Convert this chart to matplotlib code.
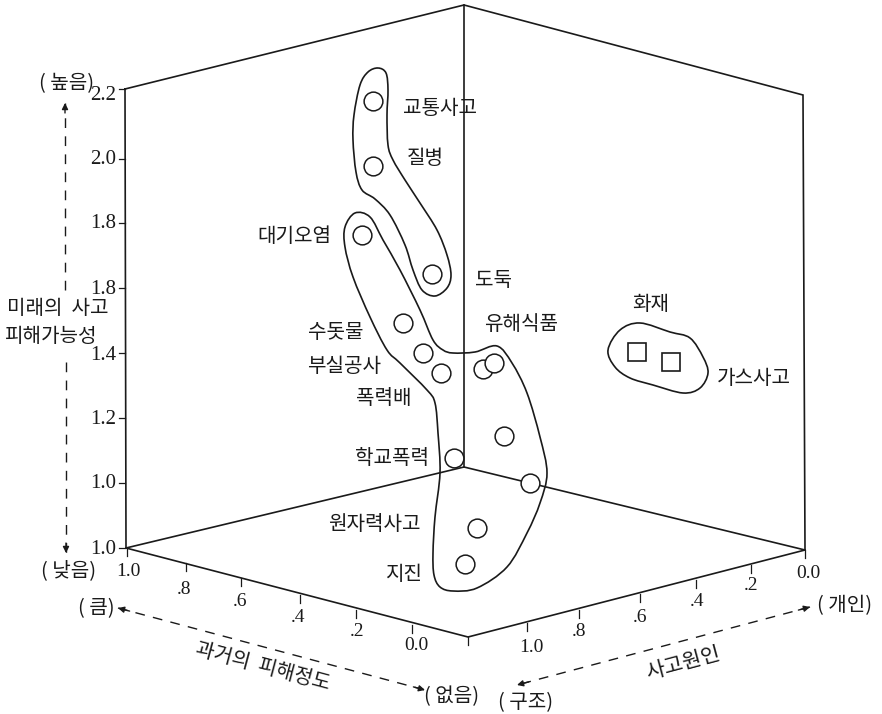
import numpy as np
import matplotlib
matplotlib.use("Agg")
import matplotlib.pyplot as plt
from matplotlib.path import Path
from matplotlib.patches import PathPatch

plt.rcParams['font.family'] = ['Noto Sans CJK KR', 'DejaVu Sans']

W, H = 882, 714
INK = "#1a1a1a"

# the figure is a flat printed projection of a 3d box, so everything is in picture coordinates
box_lines = [
    [(125, 89), (464, 5), (803, 95), (805, 550), (468, 637), (126, 548), (125, 89)],
    [(464, 5), (464, 467)],
    [(126, 548), (464, 467), (805, 550)],
]

z_labels = ["2.2", "2.0", "1.8", "1.8", "1.4", "1.2", "1.0", "1.0"]
z_ticks_y = [89, 159, 223, 288, 353, 418, 483, 548]
z_label_y = [95, 160, 224, 289, 355, 419, 484, 549]

past_labels = ["1.0", ".8", ".6", ".4", ".2", "0.0"]
past_ticks = [(127, 548), (186, 563), (241, 578), (300, 595), (356, 610), (412, 625)]
past_label_pos = [(128, 571), (184, 590), (240, 601), (298, 617), (357, 632), (416, 646)]

cause_labels = ["1.0", ".8", ".6", ".4", ".2", "0.0"]
cause_ticks = [(527, 623), (579, 610), (640, 594), (696, 580), (751, 565), (805, 550)]
cause_label_pos = [(531, 647), (579, 632), (640, 617), (697, 601), (751, 586), (808, 573)]

circle_x = [373, 373, 362, 432, 403, 423, 441, 483, 494, 504, 454, 530, 477, 465]
circle_y = [101, 166, 235, 274, 323, 353, 373, 369, 363, 436, 458, 483, 528, 564]
square_x = [637, 671]
square_y = [352, 362]

blob_top = [(378, 68), (386, 73), (388, 90), (387, 115), (388, 145), (393, 160), (405, 180),
            (420, 203), (437, 230), (447, 255), (451, 275), (447, 288), (435, 296), (422, 290),
            (413, 270), (405, 245), (390, 215), (375, 199), (362, 190), (356, 172), (353, 140),
            (354, 115), (360, 85), (368, 72)]
blob_mid = [(345, 227), (355, 213), (370, 217), (383, 240), (400, 270), (420, 310), (433, 340),
            (443, 350), (453, 353), (475, 352), (497, 346), (512, 363), (527, 393), (540, 437),
            (547, 473), (540, 503), (527, 533), (507, 567), (477, 588), (453, 591), (440, 587),
            (434, 575), (433, 553), (435, 517), (440, 473), (438, 433), (435, 403), (427, 390),
            (400, 363), (387, 350), (370, 317), (353, 277), (345, 247)]
blob_right = [(608, 350), (620, 330), (640, 323), (670, 332), (690, 338), (703, 357), (708, 373),
              (700, 388), (683, 393), (653, 385), (630, 378), (615, 367)]

text_labels = [
    ("교통사고", 440, 108), ("질병", 425, 158), ("대기오염", 294, 236), ("도둑", 494, 279),
    ("수돗물", 336, 332), ("유해식품", 521, 323), ("부실공사", 344, 365), ("화재", 651, 304),
    ("가스사고", 754, 377), ("폭력배", 384, 398), ("학교폭력", 392, 457), ("원자력사고", 374, 523),
    ("지진", 404, 573), ("미래의  사고", 58, 308), ("피해가능성", 50, 335),
    ("( 높음)", 67, 83), ("( 낮음)", 69, 570), ("( 큼)", 96, 608), ("( 없음)", 452, 696),
    ("( 구조)", 526, 702), ("( 개인)", 845, 605),
]

dashed_arrows = [
    [(65, 290), (65, 103)],
    [(66, 362), (66, 553)],
    [(140, 614), (118, 608), (425, 690)],
    [(790, 613), (810, 607), (517, 685)],
]


def closed_curve(pts):
    # catmull-rom through the traced outline, as bezier segments
    pts = np.array(pts, dtype=float)
    n = len(pts)
    verts = [pts[0]]
    codes = [Path.MOVETO]
    for i in range(n):
        p0, p1, p2, p3 = pts[i - 1], pts[i], pts[(i + 1) % n], pts[(i + 2) % n]
        verts += [p1 + (p2 - p0) / 6, p2 - (p3 - p1) / 6, p2]
        codes += [Path.CURVE4] * 3
    return Path(verts, codes)


fig = plt.figure(figsize=(W / 100, H / 100), dpi=100)
ax = fig.add_axes([0, 0, 1, 1])
ax.set_xlim(0, W)
ax.set_ylim(H, 0)
ax.axis("off")

for line in box_lines:
    xs, ys = zip(*line)
    ax.plot(xs, ys, color=INK, lw=1.2, zorder=2, solid_joinstyle="miter")

# height axis
for y, ly, lab in zip(z_ticks_y, z_label_y, z_labels):
    ax.plot([119, 125], [y, y], color=INK, lw=0.9)
    ax.text(116, ly, lab, family="Liberation Serif", fontsize=15, ha="right", va="center", color=INK)

# floor axes
for (x, y), lab, (lx, ly) in zip(past_ticks, past_labels, past_label_pos):
    ax.plot([x, x], [y, y + 8], color=INK, lw=0.9)
    ax.text(lx, ly, lab, family="Liberation Serif", fontsize=14, ha="center", va="center", color=INK)
for (x, y), lab, (lx, ly) in zip(cause_ticks, cause_labels, cause_label_pos):
    ax.plot([x, x], [y, y + 8], color=INK, lw=0.9)
    ax.text(lx, ly, lab, family="Liberation Serif", fontsize=14, ha="center", va="center", color=INK)
ax.plot([468, 468], [637, 645], color=INK, lw=0.9)

for blob in (blob_top, blob_mid, blob_right):
    ax.add_patch(PathPatch(closed_curve(blob), fill=False, ec=INK, lw=1.2, zorder=3))

ax.plot(circle_x, circle_y, "o", ms=13.5, mfc="white", mec=INK, mew=1.1, zorder=4, ls="none")
ax.plot(square_x, square_y, "s", ms=13, mfc="white", mec=INK, mew=1.2, zorder=4, ls="none")

for lab, x, y in text_labels:
    ax.text(x, y + 1, lab, fontsize=14.5, ha="center", va="center", color=INK, zorder=5)

ax.text(263, 667, "과거의  피해정도", fontsize=14.5, rotation=-15, ha="center", va="center", color=INK)
ax.text(683, 663, "사고원인", fontsize=15, rotation=15, ha="center", va="center", color=INK)

# dashed direction arrows
for arrow in dashed_arrows:
    start, end = arrow[-2], arrow[-1]
    if len(arrow) == 2:
        start, end = arrow[0], arrow[1]
        ax.plot([start[0], end[0]], [start[1], end[1]], color=INK, lw=1, dashes=(7, 6))
        ax.annotate("", xy=end, xytext=(end[0], end[1] + np.sign(start[1] - end[1]) * 10),
                    arrowprops=dict(arrowstyle="-|>", color=INK, lw=1, mutation_scale=9, shrinkA=0, shrinkB=0))
    else:
        ax.plot([start[0], end[0]], [start[1], end[1]], color=INK, lw=1, dashes=(7, 6))
        d = np.array(end, dtype=float) - np.array(start, dtype=float)
        d = d / np.hypot(*d) * 12
        ax.annotate("", xy=start, xytext=(start[0] + d[0], start[1] + d[1]),
                    arrowprops=dict(arrowstyle="-|>", color=INK, lw=1, mutation_scale=9, shrinkA=0, shrinkB=0))
        ax.annotate("", xy=end, xytext=(end[0] - d[0], end[1] - d[1]),
                    arrowprops=dict(arrowstyle="-|>", color=INK, lw=1, mutation_scale=9, shrinkA=0, shrinkB=0))

fig.savefig("out.png", dpi=100, facecolor="white")
